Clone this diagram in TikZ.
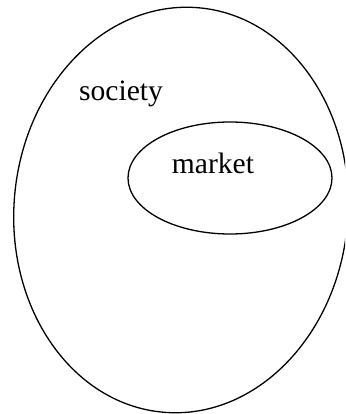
\documentclass[tikz,border=0pt]{standalone}
\usepackage{fontspec}
\setmainfont{Liberation Serif}
\usetikzlibrary{shapes.geometric}
\begin{document}
\begin{tikzpicture}[x=1pt,y=-1pt,
  ring/.style={draw=black, line width=1.3pt, ellipse, inner sep=0pt},
  lbl/.style={font=\fontsize{29.6}{34}\selectfont, inner sep=0pt, anchor=base}]
\useasboundingbox (0,0) rectangle (345,414);
\clip (0,0) rectangle (345,414);
\node[ring, minimum width=334pt, minimum height=406pt, rotate=-5] (society) at (181,210) {};
\node[ring, minimum width=204pt, minimum height=112pt] (market) at (230,178) {};
\node[lbl] (societylbl) at (121,101) {society};
\node[lbl] (marketlbl) at (213,173) {market};
\end{tikzpicture}
\end{document}
